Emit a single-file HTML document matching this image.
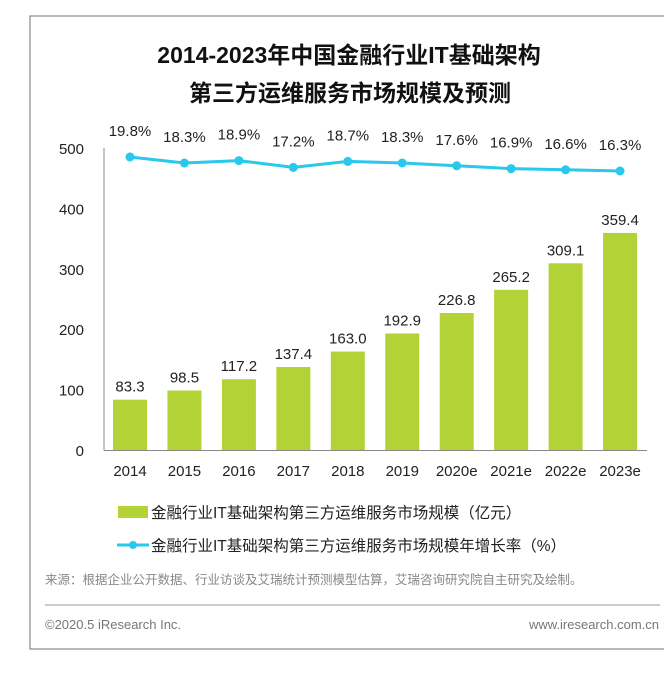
<!DOCTYPE html>
<html><head><meta charset="utf-8"><style>
body{margin:0;background:#fff;width:664px;height:670px;overflow:hidden;font-family:"Liberation Sans","Noto Sans CJK SC",sans-serif}
</style></head><body>
<svg width="664" height="670" style="font-family:'Liberation Sans','Noto Sans CJK SC',sans-serif">
<rect x="30" y="16" width="650" height="633" fill="none" stroke="#888" stroke-width="1.2"/>
<text x="349" y="63" text-anchor="middle" font-size="23" font-weight="bold" fill="#111">2014-2023年中国金融行业IT基础架构</text>
<text x="350" y="101" text-anchor="middle" font-size="23" font-weight="bold" fill="#111">第三方运维服务市场规模及预测</text>
<g id="plot"></g>
<rect x="118" y="506" width="30" height="12" fill="#b3d236"/>
<text x="151" y="518" font-size="15.5" fill="#222">金融行业IT基础架构第三方运维服务市场规模（亿元）</text>
<line x1="117" y1="545" x2="149" y2="545" stroke="#29c8ec" stroke-width="3"/>
<circle cx="133" cy="545" r="4" fill="#29c8ec"/>
<text x="151" y="551" font-size="15.5" fill="#222">金融行业IT基础架构第三方运维服务市场规模年增长率（%）</text>
<text x="45" y="584" font-size="12.5" fill="#888">来源：根据企业公开数据、行业访谈及艾瑞统计预测模型估算，艾瑞咨询研究院自主研究及绘制。</text>
<line x1="45" y1="605" x2="660" y2="605" stroke="#999" stroke-width="1"/>
<text x="45" y="629" font-size="13" fill="#777">©2020.5 iResearch Inc.</text>
<text x="659" y="629" text-anchor="end" font-size="13" fill="#777">www.iresearch.com.cn</text>
</svg>
<script>
const categories=["2014","2015","2016","2017","2018","2019","2020e","2021e","2022e","2023e"];
const marketSize=[83.3,98.5,117.2,137.4,163.0,192.9,226.8,265.2,309.1,359.4];
const growthRate=[19.8,18.3,18.9,17.2,18.7,18.3,17.6,16.9,16.6,16.3];
const yTicks=[0,100,200,300,400,500];
const NS="http://www.w3.org/2000/svg";
const g=document.getElementById('plot');
const x=i=>130+i*54.45;
const y=v=>450-v*0.604;
const yr=v=>157+(19.8-v)*4;
function mk(t,a,txt){const e=document.createElementNS(NS,t);for(const k in a)e.setAttribute(k,a[k]);if(txt!=null)e.textContent=txt;g.appendChild(e);return e;}
yTicks.forEach(v=>{const e=mk('text',{x:84,y:y(v)+6,'text-anchor':'end','font-size':15,fill:'#222'},v);

});
marketSize.forEach((v,i)=>{const r=mk('rect',{x:x(i)-17,y:y(v),width:34,height:450-y(v),fill:'#b3d236'});


const t=mk('text',{x:x(i),y:y(v)-8,'text-anchor':'middle','font-size':15,fill:'#222'},v.toFixed(1));


const c=mk('text',{x:x(i),y:476,'text-anchor':'middle','font-size':15,fill:'#222'},categories[i]);

});
const ax=mk('line',{x1:104,y1:148,x2:104,y2:450.5,stroke:'#888','stroke-width':1});


const bx=mk('line',{x1:104,y1:450.5,x2:647,y2:450.5,stroke:'#888','stroke-width':1});


const pl=mk('polyline',{points:growthRate.map((v,i)=>x(i)+','+yr(v)).join(' '),fill:'none',stroke:'#29c8ec','stroke-width':3});


growthRate.forEach((v,i)=>{const c=mk('circle',{cx:x(i),cy:yr(v),r:4.5,fill:'#29c8ec'});


const t=mk('text',{x:x(i),y:yr(v)-21,'text-anchor':'middle','font-size':15,fill:'#222'},v.toFixed(1)+'%');

});
</script>
</body></html>
